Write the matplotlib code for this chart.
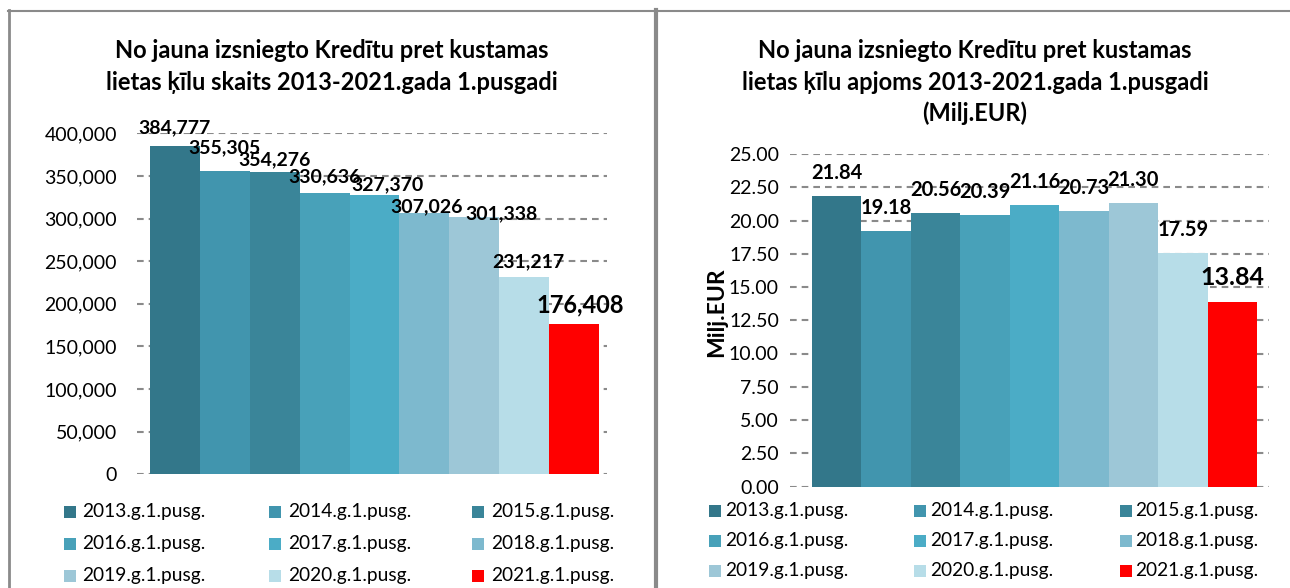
import matplotlib
matplotlib.use("Agg")
import matplotlib.pyplot as plt
from matplotlib.patches import Rectangle
from matplotlib.lines import Line2D
from matplotlib.ticker import FuncFormatter

plt.rcParams['font.family'] = ['Lato', 'DejaVu Sans']
plt.rcParams['lines.scale_dashes'] = False

# ---------------- data ----------------
periods = ["2013.g.1.pusg.", "2014.g.1.pusg.", "2015.g.1.pusg.", "2016.g.1.pusg.",
           "2017.g.1.pusg.", "2018.g.1.pusg.", "2019.g.1.pusg.", "2020.g.1.pusg.",
           "2021.g.1.pusg."]
count_values = [384777, 355305, 354276, 330636, 327370, 307026, 301338, 231217, 176408]
volume_values = [21.84, 19.18, 20.56, 20.39, 21.16, 20.73, 21.30, 17.59, 13.84]
count_ticks = [0, 50000, 100000, 150000, 200000, 250000, 300000, 350000, 400000]
volume_ticks = [0, 2.5, 5, 7.5, 10, 12.5, 15, 17.5, 20, 22.5, 25]
title_left = ["No jauna izsniegto Kredītu pret kustamas",
              "lietas ķīlu skaits 2013-2021.gada 1.pusgadi"]
title_right = ["No jauna izsniegto Kredītu pret kustamas",
               "lietas ķīlu apjoms 2013-2021.gada 1.pusgadi",
               "(Milj.EUR)"]
ylabel_right = "Milj.EUR"

# ---------------- style ----------------
colors = ["#33778A", "#4195AE", "#3A8599", "#48A1B9", "#4BACC6",
          "#7DB9CE", "#9DC7D7", "#B7DDE8", "#FF0000"]
grid_color = "#8A8A8A"
border_color = "#8A8A8A"
# label placement tweaks (bar-width units / pixels)
left_label_dx = [0, 0, 0, 0, 0.26, 0.04, 0.54, 0.08, 0.12]
left_label_dy = [19, 24, 13, 16, 11, 6, 4, 15, 19]
right_label_dy = [23, 23, 23, 23, 23, 23, 23, 23, 25]

W, H = 1290, 588
fig = plt.figure(figsize=(W / 100, H / 100), dpi=100)


def fx(px):
    return px / W


def fy(py):
    return 1 - py / H


def axes_rect(x0, x1, y_top, y_bot):
    return [fx(x0), fy(y_bot), fx(x1) - fx(x0), fy(y_top) - fy(y_bot)]


def style_axes(ax, ticks, fmt, pad):
    ax.set_yticks(ticks)
    ax.yaxis.set_major_formatter(FuncFormatter(fmt))
    ax.tick_params(axis='y', length=0, pad=pad, labelsize=14, colors='black')
    ax.tick_params(axis='x', length=0, labelbottom=False)
    for s in ax.spines.values():
        s.set_visible(False)
    ax.set_axisbelow(True)
    ax.yaxis.grid(True, color=grid_color, linewidth=1.5,
                  linestyle=(0, (4.8, 3.6)))
    ax.xaxis.grid(False)


x = list(range(len(periods)))

# ---------------- left chart ----------------
axL = fig.add_axes(axes_rect(136.7, 607, 133.4, 474.3))
axL.bar(x, count_values, width=1.0, color=colors, linewidth=0)
axL.set_xlim(-0.767, 8.66)
axL.set_ylim(0, 400000)
style_axes(axL, count_ticks, lambda v, p: f"{int(v):,}", 14.2)
for i, v in enumerate(count_values):
    big = (i == len(count_values) - 1)
    axL.annotate(f"{v:,}", xy=(i + left_label_dx[i], v),
                 xytext=(0, left_label_dy[i] * 0.72), textcoords='offset points',
                 ha='center', va='center', fontweight='bold',
                 fontsize=17 if big else 14, color='black')

# ---------------- right chart ----------------
axR = fig.add_axes(axes_rect(790, 1269, 154, 486.5))
axR.bar(x, volume_values, width=1.0, color=colors, linewidth=0)
axR.set_xlim(-0.945, 8.743)
axR.set_ylim(0, 25)
style_axes(axR, volume_ticks, lambda v, p: f"{v:.2f}", 8)
for i, v in enumerate(volume_values):
    big = (i == len(volume_values) - 1)
    axR.annotate(f"{v:.2f}", xy=(i, v),
                 xytext=(0, right_label_dy[i] * 0.72), textcoords='offset points',
                 ha='center', va='center', fontweight='bold',
                 fontsize=18 if big else 14.5, color='black')
fig.text(fx(716.5), fy(312.5), ylabel_right, rotation=90, ha='center',
         va='center', fontsize=16.5, fontweight='bold')

# ---------------- titles ----------------
for line, yy in zip(title_left, [50, 82]):
    fig.text(fx(332), fy(yy), line, ha='center', va='center',
             fontsize=17, fontweight='bold')
for line, yy in zip(title_right, [50, 82, 113]):
    fig.text(fx(975), fy(yy), line, ha='center', va='center',
             fontsize=17, fontweight='bold')

# ---------------- legends (row-major, 3 columns) ----------------
def draw_legend(col_x, row_y, text_off):
    for k, name in enumerate(periods):
        r, c = divmod(k, 3)
        x0 = col_x[c]
        yc = row_y[r]
        fig.add_artist(Rectangle((fx(x0), fy(yc + 6)), 12 / W, 12 / H,
                                 transform=fig.transFigure,
                                 facecolor=colors[k], edgecolor='none'))
        fig.text(fx(x0 + text_off), fy(yc), name, ha='left', va='center',
                 fontsize=13.8)


draw_legend([63.5, 269, 472], [511.5, 543.5, 576], 19)
draw_legend([709, 914.4, 1119.6], [510.7, 540.7, 570.5], 16)

# ---------------- panel borders ----------------
fig.add_artist(Line2D([fx(8), fx(1290)], [fy(10.5), fy(10.5)],
                      transform=fig.transFigure, color=border_color, linewidth=1.5))
fig.add_artist(Line2D([fx(8.8), fx(8.8)], [fy(10), fy(588)],
                      transform=fig.transFigure, color=border_color, linewidth=2))
fig.add_artist(Line2D([fx(656), fx(656)], [fy(10), fy(588)],
                      transform=fig.transFigure, color=border_color, linewidth=3))

fig.savefig("out.png", dpi=100)
